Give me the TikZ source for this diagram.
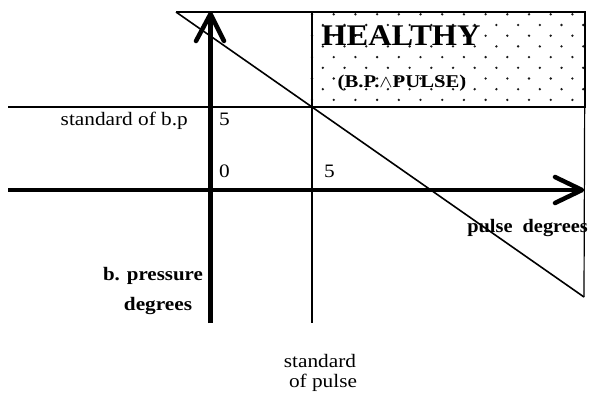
\documentclass[tikz,border=0pt]{standalone}
\usepackage{fontspec}
\setmainfont{Liberation Serif}
\newcommand{\hwide}[2][1.12]{\scalebox{#1}[1]{#2}}
\begin{document}
\begin{tikzpicture}[x=1pt,y=-1pt,
  thinline/.style={line width=1.2pt},
  boxline/.style={line width=2pt},
  axisline/.style={line width=4.5pt},
  chevron/.style={line width=4.5pt, line cap=round, line join=round},
  lbl/.style={inner sep=0pt, font=\fontsize{19}{21}\selectfont},
  blbl/.style={inner sep=0pt, font=\fontsize{19}{21}\selectfont\bfseries},
  dotfill/.style={fill=black!90}]
\useasboundingbox (0,0) rectangle (589,394);
% coordinates
\coordinate (TL) at (176,12);
\coordinate (TR) at (585,12);
\coordinate (DR) at (584,297);
\coordinate (BPL) at (8,107);
\coordinate (BPR) at (585,107);
\coordinate (SPT) at (312,12);
\coordinate (SPB) at (312,323);
\coordinate (VB) at (210.5,323);
\coordinate (VT) at (210.5,14);
\coordinate (VA1) at (196,41);
\coordinate (VA2) at (224,41);
\coordinate (HL) at (8,190);
\coordinate (HR) at (582,190);
\coordinate (HA1) at (555,177);
\coordinate (HA2) at (555,203);
% dots in healthy box
\foreach \r in {0,...,8}{
  \pgfmathsetmacro{\yy}{14.3+10.7*\r}
  \pgfmathsetmacro{\off}{mod(\r,2)==0 ? 0.3 : 11.1}
  \foreach \c in {0,...,12}{
    \pgfmathsetmacro{\xx}{\off+311.7+21.7*\c}
    \ifdim\xx pt<584pt
      \fill[dotfill] (\xx,\yy) circle (1.3);
    \fi
  }
}
% thin lines
\draw[thinline] (TL) -- (TR);
\draw[thinline] (TR) -- (DR);
\draw[thinline] (BPL) -- (BPR);
\draw[thinline] (SPT) -- (SPB);
\draw[line width=1.6pt] (TL) -- (DR);
% box
\draw[boxline] (312,12) rectangle (585,107);
% axes
\draw[axisline] (VB) -- (VT);
\draw[chevron] (VA1) -- (VT) -- (VA2);
\draw[axisline] (HL) -- (HR);
\draw[chevron] (HA1) -- (HR) -- (HA2);
% texts
\node[inner sep=0pt, anchor=base, font=\fontsize{30}{32}\selectfont\bfseries] (healthy) at (401,45) {\hwide[1.08]{HEALTHY}};
\node[inner sep=0pt, anchor=base, font=\fontsize{18}{20}\selectfont\bfseries] (bpp) at (402,87) {\hwide[1.15]{(B.P.$\wedge$PULSE)}};
\node[lbl, anchor=base east] (stdbp) at (188,125) {\hwide{standard of b.p}};
\node[lbl, anchor=base west] (five1) at (219,125) {\hwide{5}};
\node[lbl, anchor=base west] (zero) at (219,177) {\hwide{0}};
\node[lbl, anchor=base west] (five2) at (324,177) {\hwide{5}};
\node[blbl, anchor=base east] (pulsedeg) at (588,232) {\hwide[1.07]{pulse\ \ degrees}};
\node[blbl, anchor=base east] (bpress) at (203,280) {\hwide[1.1]{b. pressure}};
\node[blbl, anchor=base] (bdeg) at (158,310) {\hwide{degrees}};
\node[lbl, anchor=base] (std1) at (320,367) {\hwide{standard}};
\node[lbl, anchor=base] (std2) at (323,387) {\hwide{of pulse}};
\end{tikzpicture}
\end{document}
